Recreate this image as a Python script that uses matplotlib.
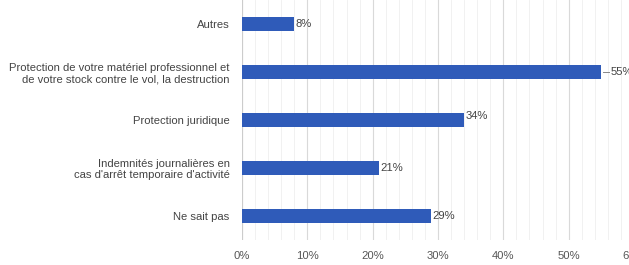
import matplotlib
matplotlib.use("Agg")
import matplotlib.pyplot as plt
from matplotlib.ticker import MultipleLocator, FuncFormatter

categories = [
    "Autres",
    "Protection de votre matériel professionnel et\nde votre stock contre le vol, la destruction",
    "Protection juridique",
    "Indemnités journalières en\ncas d'arrêt temporaire d'activité",
    "Ne sait pas",
]
values = [8, 55, 34, 21, 29]
labels = ["8%", "55%", "34%", "21%", "29%"]

plt.rcParams['font.family'] = ['Liberation Sans', 'DejaVu Sans']

fig = plt.figure(figsize=(6.29, 2.65), dpi=100)
ax = fig.add_axes([242/629, 1 - 240/265, (634 - 242)/629, 240/265])

y = list(range(len(categories)))
ax.barh(y, values, height=0.28, color="#2f5bb9", zorder=3)
ax.set_ylim(len(categories) - 0.5, -0.5)
ax.set_xlim(0, 60)
ax.set_yticks(y)
ax.set_yticklabels(categories, fontsize=8.1, color="#444444", linespacing=1.15)
ax.xaxis.set_major_locator(MultipleLocator(10))
ax.xaxis.set_minor_locator(MultipleLocator(2))
ax.xaxis.set_major_formatter(FuncFormatter(lambda v, p: f"{int(v)}%"))
ax.tick_params(axis='x', labelsize=8.1, colors="#555555", length=0, pad=8)
ax.tick_params(axis='x', which='minor', length=0)
ax.tick_params(axis='y', length=0, pad=9)
ax.grid(axis='x', which='major', color="#d9d9d9", linewidth=0.8, zorder=0)
ax.grid(axis='x', which='minor', color="#efefef", linewidth=0.6, zorder=0)
for s in ax.spines.values():
    s.set_visible(False)
ax.axvline(0, color="#cccccc", linewidth=0.8, zorder=2)

for i, (v, lab) in enumerate(zip(values, labels)):
    if v >= 50:
        ax.plot([v + 0.2, v + 1.1], [i, i], color="#888888", linewidth=0.7, zorder=4, clip_on=False)
        ax.text(v + 1.4, i, lab, va='center', ha='left', fontsize=8.1, color="#444444")
    else:
        dy = -0.08 if v > 30 else 0
        ax.text(v + 0.2, i + dy, lab, va='center', ha='left', fontsize=8.1, color="#444444")

fig.savefig("out.png", dpi=100)
